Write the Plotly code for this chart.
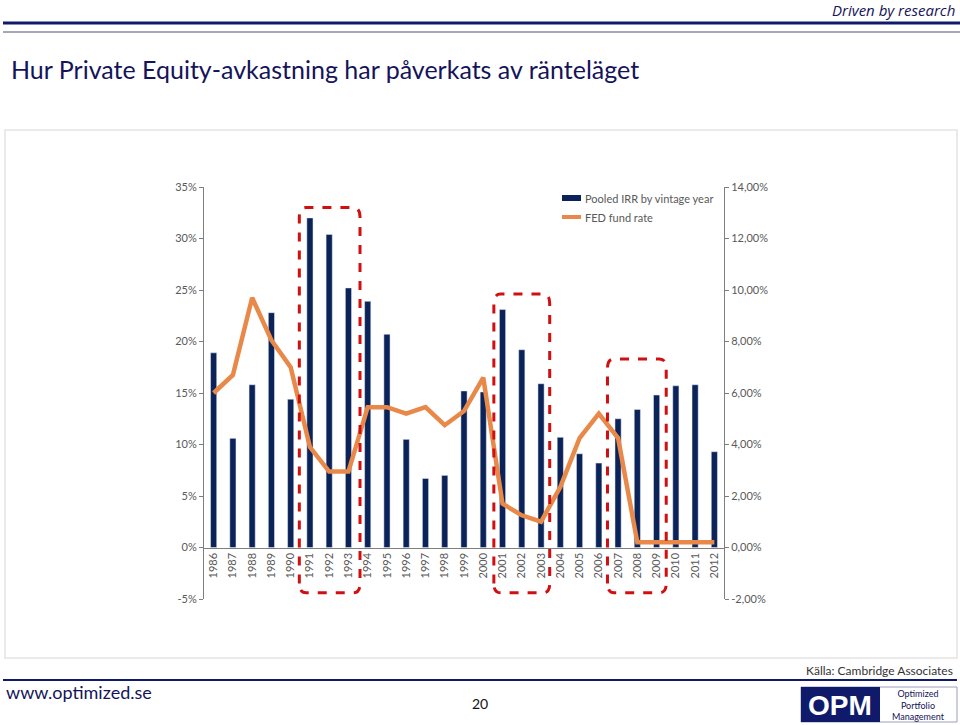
import plotly.graph_objects as go

years = [str(y) for y in range(1986, 2013)]
irr = [18.9, 10.6, 15.8, 22.8, 14.4, 32.0, 30.4, 25.2, 23.9, 20.7, 10.5, 6.7, 7.0, 15.2,
       15.1, 23.1, 19.2, 15.9, 10.7, 9.1, 8.2, 12.5, 13.4, 14.8, 15.7, 15.8, 9.3]
fed = [6.0, 6.7, 9.7, 8.05, 7.0, 3.9, 2.95, 2.95, 5.45, 5.45, 5.2, 5.45, 4.75, 5.3,
       6.6, 1.7, 1.25, 1.0, 2.35, 4.25, 5.2, 4.25, 0.2, 0.2, 0.2, 0.2, 0.2]
left_ticks = [-5, 0, 5, 10, 15, 20, 25, 30, 35]
left_labels = ["-5%", "0%", "5%", "10%", "15%", "20%", "25%", "30%", "35%"]
right_ticks = [-2, 0, 2, 4, 6, 8, 10, 12, 14]
right_labels = ["-2,00%", "0,00%", "2,00%", "4,00%", "6,00%", "8,00%", "10,00%", "12,00%", "14,00%"]
# highlighted periods (index ranges, top in IRR %)
highlights = [(4.45, 7.6, 33.0), (14.55, 17.45, 24.6), (20.45, 23.5, 18.3)]

W, H = 960, 725
L, R, T, B = 204, 724, 187, 599
NAVY = "#0b2358"
ORANGE = "#E8894A"
GRAY = "#595959"
FONT = "Lato"

def px(x):
    return (x - L) / (R - L)

def py(y):
    return (B - y) / (B - T)

idx = list(range(len(years)))
fig = go.Figure()
fig.add_trace(go.Bar(x=idx, y=irr, name="Pooled IRR by vintage year", marker_color=NAVY,
                     width=0.32, yaxis="y"))
fig.add_trace(go.Scatter(x=idx, y=fed, name="FED fund rate", mode="lines",
                         line=dict(color=ORANGE, width=4.5), yaxis="y2"))

shapes = []
# chart frame
shapes.append(dict(type="rect", xref="paper", yref="paper", x0=px(5), x1=px(957), y0=py(130), y1=py(658),
                   line=dict(color="#e3e3e3", width=1.5), layer="below"))
# header lines
shapes.append(dict(type="line", xref="paper", yref="paper", x0=px(3), x1=px(960), y0=py(23), y1=py(23),
                   line=dict(color="#0f1a6b", width=3)))
shapes.append(dict(type="line", xref="paper", yref="paper", x0=px(3), x1=px(960), y0=py(32), y1=py(32),
                   line=dict(color="#4a4f7a", width=1)))
# footer line
shapes.append(dict(type="line", xref="paper", yref="paper", x0=px(3), x1=px(957), y0=py(680), y1=py(680),
                   line=dict(color="#0f1a6b", width=2)))
# highlight boxes (rounded dashed)
for (a, b, top) in highlights:
    bot = -4.4
    rx, ry = 0.35, 0.9
    path = (f"M {a},{bot+ry} L {a},{top-ry} Q {a},{top} {a+rx},{top} L {b-rx},{top} "
            f"Q {b},{top} {b},{top-ry} L {b},{bot+ry} Q {b},{bot} {b-rx},{bot} L {a+rx},{bot} "
            f"Q {a},{bot} {a},{bot+ry}")
    shapes.append(dict(type="path", xref="x", yref="y", path=path,
                       line=dict(color="#d01010", width=3, dash="dash")))
# OPM logo
shapes.append(dict(type="rect", xref="paper", yref="paper", x0=px(801), x1=px(957), y0=py(687), y1=py(722),
                   line=dict(color="#9aa0b8", width=1), fillcolor="white"))
shapes.append(dict(type="rect", xref="paper", yref="paper", x0=px(801), x1=px(880), y0=py(687), y1=py(722),
                   line=dict(width=0), fillcolor="#0f1a6b"))
# legend markers
shapes.append(dict(type="rect", xref="paper", yref="paper", x0=px(562), x1=px(581), y0=py(195), y1=py(201),
                   line=dict(width=0), fillcolor=NAVY))
shapes.append(dict(type="line", xref="paper", yref="paper", x0=px(562), x1=px(581), y0=py(217), y1=py(217),
                   line=dict(color=ORANGE, width=4)))

ann = []
def text(x, y, s, size, color, xanchor="left", yanchor="middle", family=FONT, **kw):
    ann.append(dict(xref="paper", yref="paper", x=px(x), y=py(y), text=s, showarrow=False,
                    xanchor=xanchor, yanchor=yanchor, font=dict(size=size, color=color, family=family), **kw))

text(9, 69, "Hur Private Equity-avkastning har påverkats av ränteläget", 25, "#14145a")
text(957, 10, "<i>Driven by research</i>", 15, "#14145a", xanchor="right", family="Open Sans")
text(583, 198, "Pooled IRR by vintage year", 11, GRAY)
text(583, 217, "FED fund rate", 11, GRAY)
text(955, 670, "Källa: Cambridge Associates", 12, "#333333", xanchor="right")
text(4, 692, "www.optimized.se", 18, "#14145a")
text(480, 703, "20", 14, "#111111", xanchor="center")
text(840, 705, "<b>OPM</b>", 28, "white", xanchor="center", family="Arial")
text(918, 705, "Optimized<br>Portfolio<br>Management", 9, "#14145a", xanchor="center")

fig.update_layout(
    width=W, height=H, margin=dict(l=L, r=W - R, t=T, b=H - B),
    paper_bgcolor="white", plot_bgcolor="white", showlegend=False,
    font=dict(family=FONT, color=GRAY, size=11),
    xaxis=dict(range=[-0.5, 26.5], tickvals=idx, ticktext=years, tickangle=-90,
               anchor="free", position=5 / 40, showline=True, linecolor="#7f7f7f", linewidth=1,
               showgrid=False, zeroline=False, ticks="", tickfont=dict(size=11, color=GRAY)),
    yaxis=dict(range=[-5, 35], tickvals=left_ticks, ticktext=left_labels, showgrid=False,
               zeroline=False, showline=True, linecolor="#7f7f7f", linewidth=1, ticks="outside",
               ticklen=4, tickcolor="#7f7f7f", tickfont=dict(size=11, color=GRAY)),
    yaxis2=dict(range=[-2, 14], tickvals=right_ticks, ticktext=right_labels, overlaying="y",
                side="right", showgrid=False, zeroline=False, showline=True, linecolor="#7f7f7f",
                linewidth=1, ticks="outside", ticklen=4, tickcolor="#7f7f7f",
                tickfont=dict(size=11, color=GRAY)),
    shapes=shapes, annotations=ann,
)
fig.write_html("out.html")
